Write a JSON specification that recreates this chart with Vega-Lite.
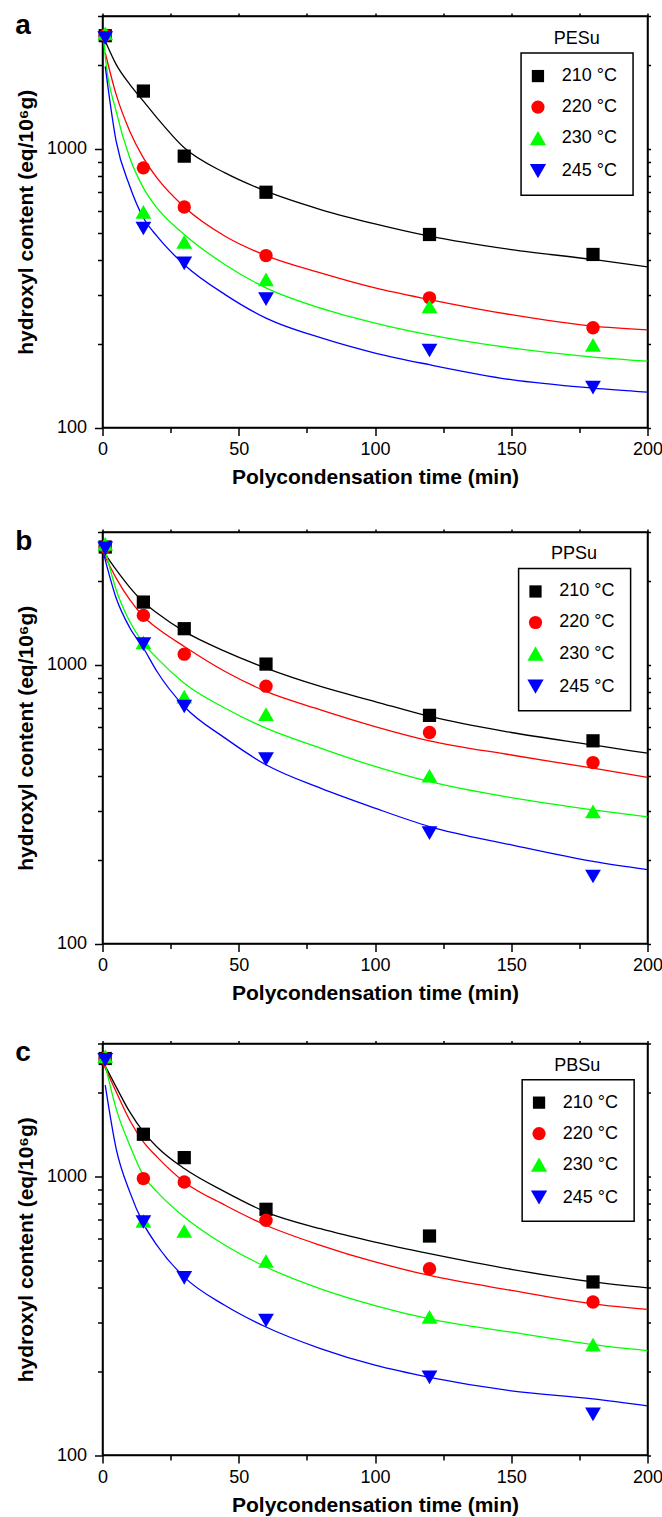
{
"$schema":"https://vega.github.io/schema/vega-lite/v6.json",
"background":"white",
"padding":{"left":14.5,"top":6,"right":4,"bottom":2},
"config":{
 "view":{"stroke":"black","strokeWidth":1.5},
 "font":"Liberation Sans",
 "axis":{"domainColor":"black","domainWidth":1.5,"tickColor":"black","tickWidth":1.5,"labelColor":"black","titleColor":"black","labelFont":"Liberation Sans","titleFont":"Liberation Sans","labelFontSize":18,"titleFontSize":21,"titleFontWeight":"bold","grid":false,"labelOverlap":false,"labelFlush":false}
},
"datasets":{
"curves":[
{"p":"a","temp":"210 °C","t":1,"v":2439},{"p":"a","temp":"210 °C","t":5,"v":2011},{"p":"a","temp":"210 °C","t":10,"v":1705},{"p":"a","temp":"210 °C","t":15,"v":1485},{"p":"a","temp":"210 °C","t":20,"v":1293},{"p":"a","temp":"210 °C","t":30,"v":1009},{"p":"a","temp":"210 °C","t":45,"v":820},{"p":"a","temp":"210 °C","t":60,"v":705},{"p":"a","temp":"210 °C","t":80,"v":606},{"p":"a","temp":"210 °C","t":100,"v":538},{"p":"a","temp":"210 °C","t":120,"v":486},{"p":"a","temp":"210 °C","t":150,"v":435},{"p":"a","temp":"210 °C","t":180,"v":401},{"p":"a","temp":"210 °C","t":200,"v":377},
{"p":"a","temp":"220 °C","t":1,"v":2214},{"p":"a","temp":"220 °C","t":5,"v":1569},{"p":"a","temp":"220 °C","t":10,"v":1158},{"p":"a","temp":"220 °C","t":15,"v":929},{"p":"a","temp":"220 °C","t":20,"v":787},{"p":"a","temp":"220 °C","t":30,"v":619},{"p":"a","temp":"220 °C","t":45,"v":486},{"p":"a","temp":"220 °C","t":60,"v":414},{"p":"a","temp":"220 °C","t":80,"v":359},{"p":"a","temp":"220 °C","t":100,"v":317},{"p":"a","temp":"220 °C","t":120,"v":288},{"p":"a","temp":"220 °C","t":150,"v":254},{"p":"a","temp":"220 °C","t":180,"v":231},{"p":"a","temp":"220 °C","t":200,"v":224},
{"p":"a","temp":"230 °C","t":0.3,"v":2600},{"p":"a","temp":"230 °C","t":1,"v":2150},{"p":"a","temp":"230 °C","t":5,"v":1367},{"p":"a","temp":"230 °C","t":10,"v":929},{"p":"a","temp":"230 °C","t":15,"v":725},{"p":"a","temp":"230 °C","t":20,"v":614},{"p":"a","temp":"230 °C","t":30,"v":493},{"p":"a","temp":"230 °C","t":45,"v":384},{"p":"a","temp":"230 °C","t":60,"v":317},{"p":"a","temp":"230 °C","t":80,"v":268},{"p":"a","temp":"230 °C","t":100,"v":237},{"p":"a","temp":"230 °C","t":120,"v":215},{"p":"a","temp":"230 °C","t":150,"v":193},{"p":"a","temp":"230 °C","t":180,"v":179},{"p":"a","temp":"230 °C","t":200,"v":173},
{"p":"a","temp":"245 °C","t":1,"v":1978},{"p":"a","temp":"245 °C","t":5,"v":1066},{"p":"a","temp":"245 °C","t":10,"v":735},{"p":"a","temp":"245 °C","t":15,"v":566},{"p":"a","temp":"245 °C","t":20,"v":486},{"p":"a","temp":"245 °C","t":30,"v":384},{"p":"a","temp":"245 °C","t":45,"v":300},{"p":"a","temp":"245 °C","t":60,"v":247},{"p":"a","temp":"245 °C","t":80,"v":210},{"p":"a","temp":"245 °C","t":100,"v":185},{"p":"a","temp":"245 °C","t":120,"v":168},{"p":"a","temp":"245 °C","t":150,"v":148.5},{"p":"a","temp":"245 °C","t":180,"v":138.5},{"p":"a","temp":"245 °C","t":200,"v":134},
{"p":"b","temp":"210 °C","t":0.3,"v":2557},{"p":"b","temp":"210 °C","t":5,"v":2197},{"p":"b","temp":"210 °C","t":10,"v":1898},{"p":"b","temp":"210 °C","t":15,"v":1681},{"p":"b","temp":"210 °C","t":20,"v":1535},{"p":"b","temp":"210 °C","t":30,"v":1319},{"p":"b","temp":"210 °C","t":45,"v":1118},{"p":"b","temp":"210 °C","t":60,"v":974},{"p":"b","temp":"210 °C","t":80,"v":837},{"p":"b","temp":"210 °C","t":100,"v":739},{"p":"b","temp":"210 °C","t":120,"v":653},{"p":"b","temp":"210 °C","t":150,"v":572},{"p":"b","temp":"210 °C","t":180,"v":516},{"p":"b","temp":"210 °C","t":200,"v":482},
{"p":"b","temp":"220 °C","t":0.3,"v":2521},{"p":"b","temp":"220 °C","t":5,"v":2050},{"p":"b","temp":"220 °C","t":10,"v":1714},{"p":"b","temp":"220 °C","t":15,"v":1493},{"p":"b","temp":"220 °C","t":20,"v":1356},{"p":"b","temp":"220 °C","t":30,"v":1165},{"p":"b","temp":"220 °C","t":45,"v":947},{"p":"b","temp":"220 °C","t":60,"v":803},{"p":"b","temp":"220 °C","t":80,"v":690},{"p":"b","temp":"220 °C","t":100,"v":601},{"p":"b","temp":"220 °C","t":120,"v":534},{"p":"b","temp":"220 °C","t":150,"v":475},{"p":"b","temp":"220 °C","t":180,"v":426},{"p":"b","temp":"220 °C","t":200,"v":395},
{"p":"b","temp":"230 °C","t":0.2,"v":2779},{"p":"b","temp":"230 °C","t":5,"v":1862},{"p":"b","temp":"230 °C","t":10,"v":1432},{"p":"b","temp":"230 °C","t":15,"v":1198},{"p":"b","temp":"230 °C","t":20,"v":1058},{"p":"b","temp":"230 °C","t":30,"v":860},{"p":"b","temp":"230 °C","t":45,"v":699},{"p":"b","temp":"230 °C","t":60,"v":593},{"p":"b","temp":"230 °C","t":80,"v":503},{"p":"b","temp":"230 °C","t":100,"v":432},{"p":"b","temp":"230 °C","t":120,"v":381},{"p":"b","temp":"230 °C","t":150,"v":334},{"p":"b","temp":"230 °C","t":180,"v":302},{"p":"b","temp":"230 °C","t":200,"v":285},
{"p":"b","temp":"245 °C","t":0.5,"v":2487},{"p":"b","temp":"245 °C","t":5,"v":1738},{"p":"b","temp":"245 °C","t":10,"v":1360},{"p":"b","temp":"245 °C","t":15,"v":1150},{"p":"b","temp":"245 °C","t":20,"v":947},{"p":"b","temp":"245 °C","t":30,"v":709},{"p":"b","temp":"245 °C","t":45,"v":546},{"p":"b","temp":"245 °C","t":60,"v":438},{"p":"b","temp":"245 °C","t":80,"v":361},{"p":"b","temp":"245 °C","t":100,"v":306},{"p":"b","temp":"245 °C","t":120,"v":263},{"p":"b","temp":"245 °C","t":150,"v":226},{"p":"b","temp":"245 °C","t":180,"v":197},{"p":"b","temp":"245 °C","t":200,"v":184},
{"p":"c","temp":"210 °C","t":0.5,"v":2542},{"p":"c","temp":"210 °C","t":5,"v":2096},{"p":"c","temp":"210 °C","t":10,"v":1704},{"p":"c","temp":"210 °C","t":15,"v":1445},{"p":"c","temp":"210 °C","t":20,"v":1276},{"p":"c","temp":"210 °C","t":30,"v":1067},{"p":"c","temp":"210 °C","t":45,"v":880},{"p":"c","temp":"210 °C","t":60,"v":745},{"p":"c","temp":"210 °C","t":80,"v":649},{"p":"c","temp":"210 °C","t":100,"v":581},{"p":"c","temp":"210 °C","t":120,"v":528},{"p":"c","temp":"210 °C","t":150,"v":464},{"p":"c","temp":"210 °C","t":180,"v":418},{"p":"c","temp":"210 °C","t":200,"v":398},
{"p":"c","temp":"220 °C","t":0.5,"v":2508},{"p":"c","temp":"220 °C","t":5,"v":2012},{"p":"c","temp":"220 °C","t":10,"v":1591},{"p":"c","temp":"220 °C","t":15,"v":1330},{"p":"c","temp":"220 °C","t":20,"v":1175},{"p":"c","temp":"220 °C","t":30,"v":955},{"p":"c","temp":"220 °C","t":45,"v":788},{"p":"c","temp":"220 °C","t":60,"v":668},{"p":"c","temp":"220 °C","t":80,"v":566},{"p":"c","temp":"220 °C","t":100,"v":493},{"p":"c","temp":"220 °C","t":120,"v":441},{"p":"c","temp":"220 °C","t":150,"v":390},{"p":"c","temp":"220 °C","t":180,"v":349},{"p":"c","temp":"220 °C","t":200,"v":333},
{"p":"c","temp":"230 °C","t":0.2,"v":2724},{"p":"c","temp":"230 °C","t":5,"v":1752},{"p":"c","temp":"230 °C","t":10,"v":1294},{"p":"c","temp":"230 °C","t":15,"v":1009},{"p":"c","temp":"230 °C","t":20,"v":880},{"p":"c","temp":"230 °C","t":30,"v":715},{"p":"c","temp":"230 °C","t":45,"v":566},{"p":"c","temp":"230 °C","t":60,"v":473},{"p":"c","temp":"230 °C","t":80,"v":395},{"p":"c","temp":"230 °C","t":100,"v":344},{"p":"c","temp":"230 °C","t":120,"v":308},{"p":"c","temp":"230 °C","t":150,"v":276},{"p":"c","temp":"230 °C","t":180,"v":249},{"p":"c","temp":"230 °C","t":200,"v":237},
{"p":"c","temp":"245 °C","t":1,"v":2125},{"p":"c","temp":"245 °C","t":5,"v":1259},{"p":"c","temp":"245 °C","t":10,"v":880},{"p":"c","temp":"245 °C","t":15,"v":677},{"p":"c","temp":"245 °C","t":20,"v":566},{"p":"c","temp":"245 °C","t":30,"v":435},{"p":"c","temp":"245 °C","t":45,"v":344},{"p":"c","temp":"245 °C","t":60,"v":288},{"p":"c","temp":"245 °C","t":80,"v":241},{"p":"c","temp":"245 °C","t":100,"v":210},{"p":"c","temp":"245 °C","t":120,"v":190},{"p":"c","temp":"245 °C","t":150,"v":170},{"p":"c","temp":"245 °C","t":180,"v":159},{"p":"c","temp":"245 °C","t":200,"v":150}
],
"pts":[
{"p":"a","temp":"210 °C","t":1,"v":2550},{"p":"a","temp":"210 °C","t":15,"v":1613},{"p":"a","temp":"210 °C","t":30,"v":942},{"p":"a","temp":"210 °C","t":60,"v":699},{"p":"a","temp":"210 °C","t":120,"v":493},{"p":"a","temp":"210 °C","t":180,"v":418},
{"p":"a","temp":"220 °C","t":1,"v":2560},{"p":"a","temp":"220 °C","t":15,"v":855},{"p":"a","temp":"220 °C","t":30,"v":619},{"p":"a","temp":"220 °C","t":60,"v":414},{"p":"a","temp":"220 °C","t":120,"v":292},{"p":"a","temp":"220 °C","t":180,"v":228},
{"p":"a","temp":"230 °C","t":1,"v":2600},{"p":"a","temp":"230 °C","t":15,"v":594},{"p":"a","temp":"230 °C","t":30,"v":464},{"p":"a","temp":"230 °C","t":60,"v":340},{"p":"a","temp":"230 °C","t":120,"v":272},{"p":"a","temp":"230 °C","t":180,"v":198},
{"p":"a","temp":"245 °C","t":1,"v":2500},{"p":"a","temp":"245 °C","t":15,"v":518},{"p":"a","temp":"245 °C","t":30,"v":388},{"p":"a","temp":"245 °C","t":60,"v":289},{"p":"a","temp":"245 °C","t":120,"v":189},{"p":"a","temp":"245 °C","t":180,"v":139},
{"p":"b","temp":"210 °C","t":1,"v":2650},{"p":"b","temp":"210 °C","t":15,"v":1681},{"p":"b","temp":"210 °C","t":30,"v":1349},{"p":"b","temp":"210 °C","t":60,"v":1007},{"p":"b","temp":"210 °C","t":120,"v":659},{"p":"b","temp":"210 °C","t":180,"v":534},
{"p":"b","temp":"220 °C","t":1,"v":2650},{"p":"b","temp":"220 °C","t":15,"v":1506},{"p":"b","temp":"220 °C","t":30,"v":1093},{"p":"b","temp":"220 °C","t":60,"v":839},{"p":"b","temp":"220 °C","t":120,"v":572},{"p":"b","temp":"220 °C","t":180,"v":446},
{"p":"b","temp":"230 °C","t":1,"v":2720},{"p":"b","temp":"230 °C","t":15,"v":1204},{"p":"b","temp":"230 °C","t":30,"v":770},{"p":"b","temp":"230 °C","t":60,"v":666},{"p":"b","temp":"230 °C","t":120,"v":400},{"p":"b","temp":"230 °C","t":180,"v":298},
{"p":"b","temp":"245 °C","t":1,"v":2620},{"p":"b","temp":"245 °C","t":15,"v":1188},{"p":"b","temp":"245 °C","t":30,"v":709},{"p":"b","temp":"245 °C","t":60,"v":459},{"p":"b","temp":"245 °C","t":120,"v":249},{"p":"b","temp":"245 °C","t":180,"v":174},
{"p":"c","temp":"210 °C","t":1,"v":2650},{"p":"c","temp":"210 °C","t":15,"v":1417},{"p":"c","temp":"210 °C","t":30,"v":1168},{"p":"c","temp":"210 °C","t":60,"v":762},{"p":"c","temp":"210 °C","t":120,"v":611},{"p":"c","temp":"210 °C","t":180,"v":418},
{"p":"c","temp":"220 °C","t":1,"v":2650},{"p":"c","temp":"220 °C","t":15,"v":982},{"p":"c","temp":"220 °C","t":30,"v":955},{"p":"c","temp":"220 °C","t":60,"v":696},{"p":"c","temp":"220 °C","t":120,"v":466},{"p":"c","temp":"220 °C","t":180,"v":354},
{"p":"c","temp":"230 °C","t":1,"v":2700},{"p":"c","temp":"230 °C","t":15,"v":692},{"p":"c","temp":"230 °C","t":30,"v":637},{"p":"c","temp":"230 °C","t":60,"v":497},{"p":"c","temp":"230 °C","t":120,"v":313},{"p":"c","temp":"230 °C","t":180,"v":249},
{"p":"c","temp":"245 °C","t":1,"v":2620},{"p":"c","temp":"245 °C","t":15,"v":686},{"p":"c","temp":"245 °C","t":30,"v":432},{"p":"c","temp":"245 °C","t":60,"v":304},{"p":"c","temp":"245 °C","t":120,"v":190},{"p":"c","temp":"245 °C","t":180,"v":140}
]
},
"bounds":"flush",
"spacing":104,
"resolve":{"scale":{"x":"independent","y":"independent","color":"independent","shape":"independent","stroke":"independent"}},
"vconcat":[
{
 "width":545,"height":411.5,
 "layer":[
  {"data":{"name":"curves"},"transform":[{"filter":"datum.p=='a'"}],
   "mark":{"type":"line","interpolate":"monotone","strokeWidth":1.3},
   "encoding":{
    "x":{"field":"t","type":"quantitative","scale":{"domain":[0,200],"nice":false,"zero":false},
      "axis":{"values":[0,25,50,75,100,125,150,175,200],"labelExpr":"datum.value%50==0?datum.label:''","tickSize":{"condition":{"test":"datum.value%50==0","value":8},"value":5},"labelPadding":5,"labelFontSize":18,"labelFont":"Liberation Sans","title":"Polycondensation time (min)","titlePadding":8}},
    "y":{"field":"v","type":"quantitative","scale":{"type":"log","domain":[100,3000],"nice":false},
      "axis":{"values":[100,200,300,400,500,600,700,800,900,1000,2000,3000],"format":"d","labelExpr":"datum.value==100||datum.value==1000?datum.label:''","tickSize":{"condition":{"test":"datum.value==100||datum.value==1000","value":8},"value":5},"labelPadding":8,"labelFontSize":18,"labelFont":"Liberation Sans","title":"hydroxyl content (eq/10⁶g)","titlePadding":10}},
    "stroke":{"field":"temp","type":"nominal","scale":{"domain":["210 °C","220 °C","230 °C","245 °C"],"range":["#000000","#ff0000","#00ff00","#0000ff"]},"legend":null}}},
  {"data":{"name":"pts"},"transform":[{"filter":"datum.p=='a'"}],
   "mark":{"type":"point","filled":true,"opacity":1},
   "encoding":{
    "x":{"field":"t","type":"quantitative","axis":null},
    "y":{"field":"v","type":"quantitative","axis":null},
    "size":{"condition":[{"test":"datum.temp=='210 °C'","value":175},{"test":"datum.temp=='220 °C'","value":180}],"value":250},
    "color":{"field":"temp","type":"nominal","scale":{"domain":["210 °C","220 °C","230 °C","245 °C"],"range":["#000000","#ff0000","#00ff00","#0000ff"]},"legend":null},
    "shape":{"field":"temp","type":"nominal","scale":{"domain":["210 °C","220 °C","230 °C","245 °C"],"range":["square","circle","triangle-up","triangle-down"]},"legend":null}}},
  {"data":{"values":[{}]},"mark":{"type":"rect","fill":"white","fillOpacity":0,"stroke":"black","strokeWidth":1.5},
   "encoding":{"x":{"datum":153.6,"type":"quantitative","axis":null},"x2":{"datum":194.7},"y":{"datum":2209,"type":"quantitative","axis":null},"y2":{"datum":682}}},
  {"data":{"values":[{}]},"mark":{"type":"point","filled":true,"opacity":1,"shape":"square","color":"#000000","size":150},
   "encoding":{"x":{"datum":159.8,"type":"quantitative","axis":null},"y":{"datum":1826,"type":"quantitative","axis":null}}},
  {"data":{"values":[{}]},"mark":{"type":"point","filled":true,"opacity":1,"shape":"circle","color":"#ff0000","size":175},
   "encoding":{"x":{"datum":159.8,"type":"quantitative","axis":null},"y":{"datum":1413,"type":"quantitative","axis":null}}},
  {"data":{"values":[{}]},"mark":{"type":"point","filled":true,"opacity":1,"shape":"triangle-up","color":"#00ff00","size":265},
   "encoding":{"x":{"datum":159.8,"type":"quantitative","axis":null},"y":{"datum":1093,"type":"quantitative","axis":null}}},
  {"data":{"values":[{}]},"mark":{"type":"point","filled":true,"opacity":1,"shape":"triangle-down","color":"#0000ff","size":265},
   "encoding":{"x":{"datum":159.8,"type":"quantitative","axis":null},"y":{"datum":832,"type":"quantitative","axis":null}}},
  {"data":{"values":[{}]},"mark":{"type":"text","fontSize":18,"font":"Liberation Sans","color":"black","baseline":"middle","align":"left"},
   "encoding":{"x":{"datum":168.5,"type":"quantitative","axis":null},"y":{"datum":1826,"type":"quantitative","axis":null},"text":{"value":"210 °C"}}},
  {"data":{"values":[{}]},"mark":{"type":"text","fontSize":18,"font":"Liberation Sans","color":"black","baseline":"middle","align":"left"},
   "encoding":{"x":{"datum":168.5,"type":"quantitative","axis":null},"y":{"datum":1413,"type":"quantitative","axis":null},"text":{"value":"220 °C"}}},
  {"data":{"values":[{}]},"mark":{"type":"text","fontSize":18,"font":"Liberation Sans","color":"black","baseline":"middle","align":"left"},
   "encoding":{"x":{"datum":168.5,"type":"quantitative","axis":null},"y":{"datum":1093,"type":"quantitative","axis":null},"text":{"value":"230 °C"}}},
  {"data":{"values":[{}]},"mark":{"type":"text","fontSize":18,"font":"Liberation Sans","color":"black","baseline":"middle","align":"left"},
   "encoding":{"x":{"datum":168.5,"type":"quantitative","axis":null},"y":{"datum":832,"type":"quantitative","axis":null},"text":{"value":"245 °C"}}},
  {"data":{"values":[{}]},"mark":{"type":"text","fontSize":18,"font":"Liberation Sans","color":"black","baseline":"middle","align":"center"},
   "encoding":{"x":{"datum":174,"type":"quantitative","axis":null},"y":{"datum":2490,"type":"quantitative","axis":null},"text":{"value":"PESu"}}},
  {"data":{"values":[{}]},"mark":{"type":"text","fontSize":28,"fontWeight":"bold","font":"Liberation Sans","color":"black","baseline":"alphabetic","align":"left"},
   "encoding":{"x":{"datum":-32,"type":"quantitative","axis":null},"y":{"datum":2595,"type":"quantitative","axis":null},"text":{"value":"a"}}},
  {"data":{"name":"curves"},"transform":[{"filter":"datum.p=='a'"}],
   "mark":{"type":"point","opacity":0},
   "encoding":{
    "x":{"field":"t","type":"quantitative","axis":{"orient":"top","values":[0,25,50,75,100,125,150,175,200],"labels":false,"tickSize":3,"title":null}},
    "y":{"field":"v","type":"quantitative","axis":{"orient":"right","values":[100,200,300,400,500,600,700,800,900,1000,2000,3000],"labels":false,"tickSize":3,"title":null}}}}
 ],
 "resolve":{"axis":{"x":"independent","y":"independent"}}
},
{
 "bounds":"flush",
 "spacing":99.5,
 "resolve":{"scale":{"x":"independent","y":"independent","color":"independent","shape":"independent","stroke":"independent"}},
 "vconcat":[
 {
 "width":545,"height":411.5,
 "layer":[
  {"data":{"name":"curves"},"transform":[{"filter":"datum.p=='b'"}],
   "mark":{"type":"line","interpolate":"monotone","strokeWidth":1.3},
   "encoding":{
    "x":{"field":"t","type":"quantitative","scale":{"domain":[0,200],"nice":false,"zero":false},
      "axis":{"values":[0,25,50,75,100,125,150,175,200],"labelExpr":"datum.value%50==0?datum.label:''","tickSize":{"condition":{"test":"datum.value%50==0","value":8},"value":5},"labelPadding":5,"labelFontSize":18,"labelFont":"Liberation Sans","title":"Polycondensation time (min)","titlePadding":8}},
    "y":{"field":"v","type":"quantitative","scale":{"type":"log","domain":[100,3000],"nice":false},
      "axis":{"values":[100,200,300,400,500,600,700,800,900,1000,2000,3000],"format":"d","labelExpr":"datum.value==100||datum.value==1000?datum.label:''","tickSize":{"condition":{"test":"datum.value==100||datum.value==1000","value":8},"value":5},"labelPadding":8,"labelFontSize":18,"labelFont":"Liberation Sans","title":"hydroxyl content (eq/10⁶g)","titlePadding":10}},
    "stroke":{"field":"temp","type":"nominal","scale":{"domain":["210 °C","220 °C","230 °C","245 °C"],"range":["#000000","#ff0000","#00ff00","#0000ff"]},"legend":null}}},
  {"data":{"name":"pts"},"transform":[{"filter":"datum.p=='b'"}],
   "mark":{"type":"point","filled":true,"opacity":1},
   "encoding":{
    "x":{"field":"t","type":"quantitative","axis":null},
    "y":{"field":"v","type":"quantitative","axis":null},
    "size":{"condition":[{"test":"datum.temp=='210 °C'","value":175},{"test":"datum.temp=='220 °C'","value":180}],"value":250},
    "color":{"field":"temp","type":"nominal","scale":{"domain":["210 °C","220 °C","230 °C","245 °C"],"range":["#000000","#ff0000","#00ff00","#0000ff"]},"legend":null},
    "shape":{"field":"temp","type":"nominal","scale":{"domain":["210 °C","220 °C","230 °C","245 °C"],"range":["square","circle","triangle-up","triangle-down"]},"legend":null}}},
  {"data":{"values":[{}]},"mark":{"type":"rect","fill":"white","fillOpacity":0,"stroke":"black","strokeWidth":1.5},
   "encoding":{"x":{"datum":152.7,"type":"quantitative","axis":null},"x2":{"datum":193.8},"y":{"datum":2220,"type":"quantitative","axis":null},"y2":{"datum":685}}},
  {"data":{"values":[{}]},"mark":{"type":"point","filled":true,"opacity":1,"shape":"square","color":"#000000","size":150},
   "encoding":{"x":{"datum":158.9,"type":"quantitative","axis":null},"y":{"datum":1835,"type":"quantitative","axis":null}}},
  {"data":{"values":[{}]},"mark":{"type":"point","filled":true,"opacity":1,"shape":"circle","color":"#ff0000","size":175},
   "encoding":{"x":{"datum":158.9,"type":"quantitative","axis":null},"y":{"datum":1420,"type":"quantitative","axis":null}}},
  {"data":{"values":[{}]},"mark":{"type":"point","filled":true,"opacity":1,"shape":"triangle-up","color":"#00ff00","size":265},
   "encoding":{"x":{"datum":158.9,"type":"quantitative","axis":null},"y":{"datum":1098,"type":"quantitative","axis":null}}},
  {"data":{"values":[{}]},"mark":{"type":"point","filled":true,"opacity":1,"shape":"triangle-down","color":"#0000ff","size":265},
   "encoding":{"x":{"datum":158.9,"type":"quantitative","axis":null},"y":{"datum":836,"type":"quantitative","axis":null}}},
  {"data":{"values":[{}]},"mark":{"type":"text","fontSize":18,"font":"Liberation Sans","color":"black","baseline":"middle","align":"left"},
   "encoding":{"x":{"datum":167.6,"type":"quantitative","axis":null},"y":{"datum":1835,"type":"quantitative","axis":null},"text":{"value":"210 °C"}}},
  {"data":{"values":[{}]},"mark":{"type":"text","fontSize":18,"font":"Liberation Sans","color":"black","baseline":"middle","align":"left"},
   "encoding":{"x":{"datum":167.6,"type":"quantitative","axis":null},"y":{"datum":1420,"type":"quantitative","axis":null},"text":{"value":"220 °C"}}},
  {"data":{"values":[{}]},"mark":{"type":"text","fontSize":18,"font":"Liberation Sans","color":"black","baseline":"middle","align":"left"},
   "encoding":{"x":{"datum":167.6,"type":"quantitative","axis":null},"y":{"datum":1098,"type":"quantitative","axis":null},"text":{"value":"230 °C"}}},
  {"data":{"values":[{}]},"mark":{"type":"text","fontSize":18,"font":"Liberation Sans","color":"black","baseline":"middle","align":"left"},
   "encoding":{"x":{"datum":167.6,"type":"quantitative","axis":null},"y":{"datum":836,"type":"quantitative","axis":null},"text":{"value":"245 °C"}}},
  {"data":{"values":[{}]},"mark":{"type":"text","fontSize":18,"font":"Liberation Sans","color":"black","baseline":"middle","align":"center"},
   "encoding":{"x":{"datum":173,"type":"quantitative","axis":null},"y":{"datum":2495,"type":"quantitative","axis":null},"text":{"value":"PPSu"}}},
  {"data":{"values":[{}]},"mark":{"type":"text","fontSize":28,"fontWeight":"bold","font":"Liberation Sans","color":"black","baseline":"alphabetic","align":"left"},
   "encoding":{"x":{"datum":-32,"type":"quantitative","axis":null},"y":{"datum":2595,"type":"quantitative","axis":null},"text":{"value":"b"}}},
  {"data":{"name":"curves"},"transform":[{"filter":"datum.p=='b'"}],
   "mark":{"type":"point","opacity":0},
   "encoding":{
    "x":{"field":"t","type":"quantitative","axis":{"orient":"top","values":[0,25,50,75,100,125,150,175,200],"labels":false,"tickSize":3,"title":null}},
    "y":{"field":"v","type":"quantitative","axis":{"orient":"right","values":[100,200,300,400,500,600,700,800,900,1000,2000,3000],"labels":false,"tickSize":3,"title":null}}}}
 ],
 "resolve":{"axis":{"x":"independent","y":"independent"}}
 },
 {
 "width":545,"height":411.5,
 "layer":[
  {"data":{"name":"curves"},"transform":[{"filter":"datum.p=='c'"}],
   "mark":{"type":"line","interpolate":"monotone","strokeWidth":1.3},
   "encoding":{
    "x":{"field":"t","type":"quantitative","scale":{"domain":[0,200],"nice":false,"zero":false},
      "axis":{"values":[0,25,50,75,100,125,150,175,200],"labelExpr":"datum.value%50==0?datum.label:''","tickSize":{"condition":{"test":"datum.value%50==0","value":8},"value":5},"labelPadding":5,"labelFontSize":18,"labelFont":"Liberation Sans","title":"Polycondensation time (min)","titlePadding":8}},
    "y":{"field":"v","type":"quantitative","scale":{"type":"log","domain":[100,3000],"nice":false},
      "axis":{"values":[100,200,300,400,500,600,700,800,900,1000,2000,3000],"format":"d","labelExpr":"datum.value==100||datum.value==1000?datum.label:''","tickSize":{"condition":{"test":"datum.value==100||datum.value==1000","value":8},"value":5},"labelPadding":8,"labelFontSize":18,"labelFont":"Liberation Sans","title":"hydroxyl content (eq/10⁶g)","titlePadding":10}},
    "stroke":{"field":"temp","type":"nominal","scale":{"domain":["210 °C","220 °C","230 °C","245 °C"],"range":["#000000","#ff0000","#00ff00","#0000ff"]},"legend":null}}},
  {"data":{"name":"pts"},"transform":[{"filter":"datum.p=='c'"}],
   "mark":{"type":"point","filled":true,"opacity":1},
   "encoding":{
    "x":{"field":"t","type":"quantitative","axis":null},
    "y":{"field":"v","type":"quantitative","axis":null},
    "size":{"condition":[{"test":"datum.temp=='210 °C'","value":175},{"test":"datum.temp=='220 °C'","value":180}],"value":250},
    "color":{"field":"temp","type":"nominal","scale":{"domain":["210 °C","220 °C","230 °C","245 °C"],"range":["#000000","#ff0000","#00ff00","#0000ff"]},"legend":null},
    "shape":{"field":"temp","type":"nominal","scale":{"domain":["210 °C","220 °C","230 °C","245 °C"],"range":["square","circle","triangle-up","triangle-down"]},"legend":null}}},
  {"data":{"values":[{}]},"mark":{"type":"rect","fill":"white","fillOpacity":0,"stroke":"black","strokeWidth":1.5},
   "encoding":{"x":{"datum":154,"type":"quantitative","axis":null},"x2":{"datum":195.1},"y":{"datum":2225,"type":"quantitative","axis":null},"y2":{"datum":690}}},
  {"data":{"values":[{}]},"mark":{"type":"point","filled":true,"opacity":1,"shape":"square","color":"#000000","size":150},
   "encoding":{"x":{"datum":160.2,"type":"quantitative","axis":null},"y":{"datum":1840,"type":"quantitative","axis":null}}},
  {"data":{"values":[{}]},"mark":{"type":"point","filled":true,"opacity":1,"shape":"circle","color":"#ff0000","size":175},
   "encoding":{"x":{"datum":160.2,"type":"quantitative","axis":null},"y":{"datum":1425,"type":"quantitative","axis":null}}},
  {"data":{"values":[{}]},"mark":{"type":"point","filled":true,"opacity":1,"shape":"triangle-up","color":"#00ff00","size":265},
   "encoding":{"x":{"datum":160.2,"type":"quantitative","axis":null},"y":{"datum":1102,"type":"quantitative","axis":null}}},
  {"data":{"values":[{}]},"mark":{"type":"point","filled":true,"opacity":1,"shape":"triangle-down","color":"#0000ff","size":265},
   "encoding":{"x":{"datum":160.2,"type":"quantitative","axis":null},"y":{"datum":840,"type":"quantitative","axis":null}}},
  {"data":{"values":[{}]},"mark":{"type":"text","fontSize":18,"font":"Liberation Sans","color":"black","baseline":"middle","align":"left"},
   "encoding":{"x":{"datum":168.9,"type":"quantitative","axis":null},"y":{"datum":1840,"type":"quantitative","axis":null},"text":{"value":"210 °C"}}},
  {"data":{"values":[{}]},"mark":{"type":"text","fontSize":18,"font":"Liberation Sans","color":"black","baseline":"middle","align":"left"},
   "encoding":{"x":{"datum":168.9,"type":"quantitative","axis":null},"y":{"datum":1425,"type":"quantitative","axis":null},"text":{"value":"220 °C"}}},
  {"data":{"values":[{}]},"mark":{"type":"text","fontSize":18,"font":"Liberation Sans","color":"black","baseline":"middle","align":"left"},
   "encoding":{"x":{"datum":168.9,"type":"quantitative","axis":null},"y":{"datum":1102,"type":"quantitative","axis":null},"text":{"value":"230 °C"}}},
  {"data":{"values":[{}]},"mark":{"type":"text","fontSize":18,"font":"Liberation Sans","color":"black","baseline":"middle","align":"left"},
   "encoding":{"x":{"datum":168.9,"type":"quantitative","axis":null},"y":{"datum":840,"type":"quantitative","axis":null},"text":{"value":"245 °C"}}},
  {"data":{"values":[{}]},"mark":{"type":"text","fontSize":18,"font":"Liberation Sans","color":"black","baseline":"middle","align":"center"},
   "encoding":{"x":{"datum":174.2,"type":"quantitative","axis":null},"y":{"datum":2500,"type":"quantitative","axis":null},"text":{"value":"PBSu"}}},
  {"data":{"values":[{}]},"mark":{"type":"text","fontSize":28,"fontWeight":"bold","font":"Liberation Sans","color":"black","baseline":"alphabetic","align":"left"},
   "encoding":{"x":{"datum":-32,"type":"quantitative","axis":null},"y":{"datum":2595,"type":"quantitative","axis":null},"text":{"value":"c"}}},
  {"data":{"name":"curves"},"transform":[{"filter":"datum.p=='c'"}],
   "mark":{"type":"point","opacity":0},
   "encoding":{
    "x":{"field":"t","type":"quantitative","axis":{"orient":"top","values":[0,25,50,75,100,125,150,175,200],"labels":false,"tickSize":3,"title":null}},
    "y":{"field":"v","type":"quantitative","axis":{"orient":"right","values":[100,200,300,400,500,600,700,800,900,1000,2000,3000],"labels":false,"tickSize":3,"title":null}}}}
 ],
 "resolve":{"axis":{"x":"independent","y":"independent"}}
 }
 ]
}
]
}
